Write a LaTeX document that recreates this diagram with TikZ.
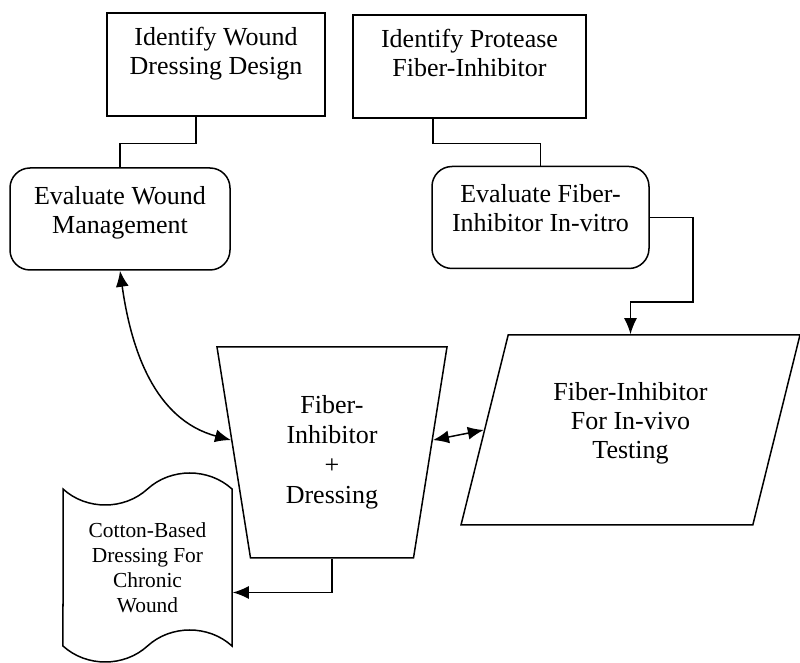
\documentclass[tikz,border=0pt]{standalone}
\usepackage{fontspec}
\setmainfont{Liberation Serif}
\usetikzlibrary{positioning, arrows.meta, shapes.geometric, shapes.symbols}

\tikzset{
  base/.style={draw, line width=0.75pt, align=center, inner sep=2pt,
    font=\fontsize{13}{14.5}\selectfont},
  plainbox/.style={base, rectangle, minimum height=51.5pt, text depth=14pt},
  evalbox/.style={base, rectangle, rounded corners=10pt, minimum height=51pt, text depth=9.5pt},
  arr/.style={-{Latex[length=8pt,width=6.5pt]}, line width=0.75pt},
  dblarr/.style={{Latex[length=8pt,width=6.5pt]}-{Latex[length=8pt,width=6.5pt]}, line width=0.75pt},
  link/.style={line width=0.75pt}
}

\begin{document}
\begin{tikzpicture}[x=0.5pt, y=0.5pt]
\useasboundingbox (0,0) rectangle (800,-663);

% Top row
\node[plainbox, minimum width=109pt] (idwound) at (216,-64.5) {Identify Wound\\Dressing Design};
\node[plainbox, minimum width=116.5pt] (idfiber) at (469.5,-66.5) {Identify Protease\\Fiber-Inhibitor};

% Evaluation
\node[evalbox, minimum width=110pt] (evwound) at (120,-219) {Evaluate Wound\\Management};
\node[evalbox, minimum width=108.5pt] (evfiber) at (540.5,-217.5) {Evaluate Fiber-\\Inhibitor In-vitro};

% Combination and testing
\node[base, trapezium, shape border rotate=180, trapezium angle=74.6, trapezium stretches body,
  minimum width=115pt, minimum height=105.5pt, font=\fontsize{13}{15}\selectfont] (mix) at (332,-452.5)
  {Fiber-\\Inhibitor\\+\\Dressing};
\node[base, trapezium, trapezium left angle=65.6, trapezium right angle=114.4, trapezium stretches body,
  minimum width=169.5pt, minimum height=95pt, text depth=10pt] (invivo) at (630.5,-430)
  {Fiber-Inhibitor\\For In-vivo\\Testing};

% Output
\node[base, tape, tape bend height=16pt, minimum width=84.5pt, minimum height=94.5pt,
  font=\fontsize{10.7}{12.5}\selectfont] (cotton) at (147.5,-567.5)
  {Cotton-Based\\Dressing For\\Chronic\\Wound};

% Connectors
\draw[link] ([xshift=-10pt]idwound.south) -- ++(0,-27) -| (evwound.north);
\draw[link] ([xshift=-18.25pt]idfiber.south) -- ++(0,-25) -| (evfiber.north);
\draw[arr] (evfiber.east) -- ++(43,0) -- ++(0,-84.5) -| (invivo.north);
\draw[dblarr] (evwound.south) to[out=-82, in=165] (mix.173);
\draw[dblarr] (mix.7) -- (invivo.west);
\draw[arr] (mix.south) |- ([yshift=-12.5pt]cotton.east);
\end{tikzpicture}
\end{document}
